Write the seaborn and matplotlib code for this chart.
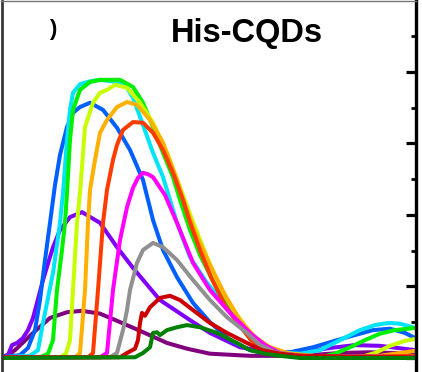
import numpy as np
import pandas as pd
import matplotlib
matplotlib.use("Agg")
import matplotlib.pyplot as plt
import seaborn as sns
from matplotlib.ticker import MultipleLocator

sns.set_style("white")
plt.rcParams['font.family'] = ['Liberation Sans', 'DejaVu Sans']

title = "His-CQDs"
series_names = ["ex1", "ex2", "ex3", "ex4", "ex5", "ex6", "ex7", "ex8", "ex9", "ex10", "ex11", "ex12"]
colors = ["#800080", "#7f00ff", "#0060ff", "#00e5f5", "#00f000", "#c8ff00",
          "#ffb000", "#ff3c00", "#ff00ff", "#909090", "#cc0000", "#008000"]

wl_1 = [380, 388, 395, 413, 430, 447, 462, 480, 497, 520, 547, 567, 590, 630, 680, 720, 750, 795]
in_1 = [0.01, 0.04, 0.11, 0.35, 0.56, 0.64, 0.66, 0.62, 0.52, 0.38, 0.21, 0.13, 0.06, 0.03, 0.03, 0.07, 0.08, 0.06]

wl_2 = [380, 388, 392, 397, 403, 408, 413, 423, 433, 440, 450, 462, 480, 497, 513, 540, 570, 590, 620, 650, 680, 710, 735, 760, 795]
in_2 = [0.01, 0.04, 0.18, 0.21, 0.28, 0.39, 0.56, 1.09, 1.55, 1.79, 1.97, 2.04, 1.89, 1.55, 1.26, 0.81, 0.53, 0.35, 0.15, 0.08, 0.08, 0.14, 0.18, 0.17, 0.11]

wl_3 = [380, 400, 408, 415, 420, 425, 430, 435, 440, 447, 453, 460, 470, 483, 497, 510, 523, 533, 543, 557, 573, 590, 610, 630, 650, 670, 693, 710, 727, 753, 770, 785, 795]
in_3 = [0.01, 0.04, 0.14, 0.39, 0.81, 1.37, 1.89, 2.42, 2.84, 3.23, 3.43, 3.51, 3.57, 3.47, 3.22, 2.91, 2.49, 1.93, 1.51, 1.13, 0.77, 0.50, 0.25, 0.11, 0.06, 0.08, 0.15, 0.22, 0.29, 0.39, 0.41, 0.35, 0.28]

wl_4 = [380, 410, 418, 423, 433, 440, 443, 447, 450, 453, 460, 470, 480, 497, 507, 513, 523, 533, 543, 550, 557, 570, 587, 607, 627, 642, 660, 680, 700, 720, 740, 755, 768, 780, 795]
in_4 = [0.01, 0.03, 0.11, 0.49, 1.19, 1.89, 2.31, 3.05, 3.47, 3.71, 3.83, 3.87, 3.89, 3.86, 3.78, 3.64, 3.26, 2.87, 2.53, 2.21, 1.89, 1.41, 1.05, 0.71, 0.39, 0.18, 0.08, 0.06, 0.11, 0.25, 0.39, 0.46, 0.49, 0.48, 0.42]

wl_5 = [380, 420, 428, 433, 437, 442, 445, 447, 450, 453, 460, 470, 480, 500, 513, 523, 533, 543, 553, 560, 570, 580, 595, 610, 625, 640, 660, 680, 700, 715, 730, 745, 760, 775, 795]
in_5 = [0.01, 0.01, 0.06, 0.25, 0.95, 1.51, 1.89, 2.31, 3.05, 3.47, 3.75, 3.86, 3.89, 3.89, 3.79, 3.57, 3.23, 2.87, 2.53, 2.21, 1.79, 1.44, 1.02, 0.67, 0.39, 0.21, 0.08, 0.03, 0.01, 0.06, 0.15, 0.25, 0.34, 0.39, 0.42]

wl_6 = [380, 440, 446, 450, 453, 457, 460, 465, 473, 480, 487, 495, 507, 520, 533, 547, 560, 573, 587, 600, 615, 630, 645, 665, 700, 740, 755, 770, 785, 797]
in_6 = [0.01, 0.01, 0.06, 0.25, 0.95, 1.89, 2.31, 3.23, 3.57, 3.71, 3.75, 3.82, 3.78, 3.57, 3.29, 2.87, 2.39, 1.90, 1.41, 0.99, 0.64, 0.36, 0.18, 0.07, 0.01, 0.01, 0.07, 0.17, 0.24, 0.27]

wl_7 = [380, 455, 460, 465, 468, 470, 475, 480, 487, 497, 507, 517, 530, 543, 557, 565, 575, 590, 605, 620, 635, 650, 670, 710, 760, 780, 795]
in_7 = [0.01, 0.01, 0.07, 0.95, 1.89, 2.35, 2.77, 3.15, 3.33, 3.51, 3.58, 3.54, 3.33, 3.01, 2.49, 2.14, 1.76, 1.30, 0.88, 0.53, 0.29, 0.15, 0.06, 0.01, 0.03, 0.07, 0.10]

wl_8 = [380, 468, 473, 478, 483, 487, 490, 493, 497, 503, 513, 523, 533, 543, 553, 563, 570, 580, 591, 605, 617, 631, 645, 660, 700, 795]
in_8 = [0.01, 0.01, 0.07, 0.95, 1.89, 2.35, 2.56, 2.77, 2.98, 3.19, 3.30, 3.29, 3.15, 2.91, 2.59, 2.21, 1.90, 1.51, 1.13, 0.74, 0.50, 0.25, 0.13, 0.06, 0.01, 0.03]

wl_9 = [380, 480, 487, 493, 500, 507, 513, 518, 523, 528, 533, 545, 557, 573, 590, 610, 630, 645, 660, 680, 795]
in_9 = [0.01, 0.01, 0.07, 0.95, 1.65, 2.11, 2.38, 2.52, 2.59, 2.57, 2.53, 2.28, 1.89, 1.33, 0.95, 0.63, 0.35, 0.18, 0.07, 0.03, 0.01]

wl_10 = [380, 490, 497, 503, 507, 510, 517, 523, 533, 543, 557, 573, 590, 607, 627, 640, 655, 680, 795]
in_10 = [0.01, 0.01, 0.07, 0.39, 0.67, 0.95, 1.33, 1.51, 1.61, 1.55, 1.37, 1.09, 0.81, 0.57, 0.35, 0.18, 0.08, 0.03, 0.01]

wl_11 = [380, 500, 507, 515, 518, 520, 522, 525, 530, 540, 550, 560, 573, 590, 607, 627, 642, 660, 680, 795]
in_11 = [0.01, 0.01, 0.07, 0.13, 0.25, 0.49, 0.63, 0.59, 0.71, 0.84, 0.87, 0.81, 0.67, 0.49, 0.35, 0.21, 0.11, 0.06, 0.03, 0.01]

wl_12 = [380, 515, 523, 530, 533, 537, 540, 547, 557, 567, 580, 597, 617, 630, 645, 660, 680, 795]
in_12 = [0.0, 0.01, 0.07, 0.15, 0.35, 0.36, 0.32, 0.39, 0.43, 0.46, 0.43, 0.35, 0.21, 0.11, 0.06, 0.03, 0.0, 0.0]

wls = [wl_1, wl_2, wl_3, wl_4, wl_5, wl_6, wl_7, wl_8, wl_9, wl_10, wl_11, wl_12]
ins = [in_1, in_2, in_3, in_4, in_5, in_6, in_7, in_8, in_9, in_10, in_11, in_12]

frames = []
for name, w, v in zip(series_names, wls, ins):
    frames.append(pd.DataFrame({"wl": w, "I": v, "ex": name}))
df = pd.concat(frames, ignore_index=True)

fig = plt.figure(figsize=(4.22, 3.72), dpi=100)
fig.patch.set_facecolor("white")
ax = fig.add_axes([1.5 / 422, 0.0, (416 - 1.5) / 422, 371 / 372])

sns.lineplot(data=df, x="wl", y="I", hue="ex", hue_order=series_names,
             palette=colors, sort=False, estimator=None, legend=False,
             linewidth=2.9, ax=ax)
for ln in ax.get_lines():
    ln.set_solid_joinstyle("round")
    ln.set_solid_capstyle("round")

ax.set_xlim(381.5, 796)
ax.set_ylim(-0.196, 4.993)
ax.set_xlabel("")
ax.set_ylabel("")
ax.set_xticks([])
ax.yaxis.tick_right()
ax.yaxis.set_major_locator(MultipleLocator(1.0))
ax.yaxis.set_minor_locator(MultipleLocator(0.5))
ax.tick_params(axis="y", which="major", direction="in", length=7.5, width=2.3,
               color="black", labelright=False, labelleft=False, right=True, left=False)
ax.tick_params(axis="y", which="minor", direction="in", length=3.8, width=2.0,
               color="black", right=True, left=False)

ax.spines["bottom"].set_visible(False)
ax.spines["right"].set_color("black")
ax.spines["right"].set_linewidth(2.4)
ax.spines["left"].set_color("#3a3a3a")
ax.spines["left"].set_linewidth(2.0)
ax.spines["top"].set_color("#777777")
ax.spines["top"].set_linewidth(1.0)

fig.text(247 / 422, 1 - 42 / 372, title, ha="center", va="baseline", color="black",
         fontsize=23.5, fontweight="bold", family=["Liberation Sans", "DejaVu Sans"])
fig.text(53 / 422, 1 - 29 / 372, ")", ha="center", va="center", fontsize=16,
         fontweight="bold", color="black", family=["Liberation Sans", "DejaVu Sans"])

fig.savefig("out.png", dpi=100, facecolor="white")
